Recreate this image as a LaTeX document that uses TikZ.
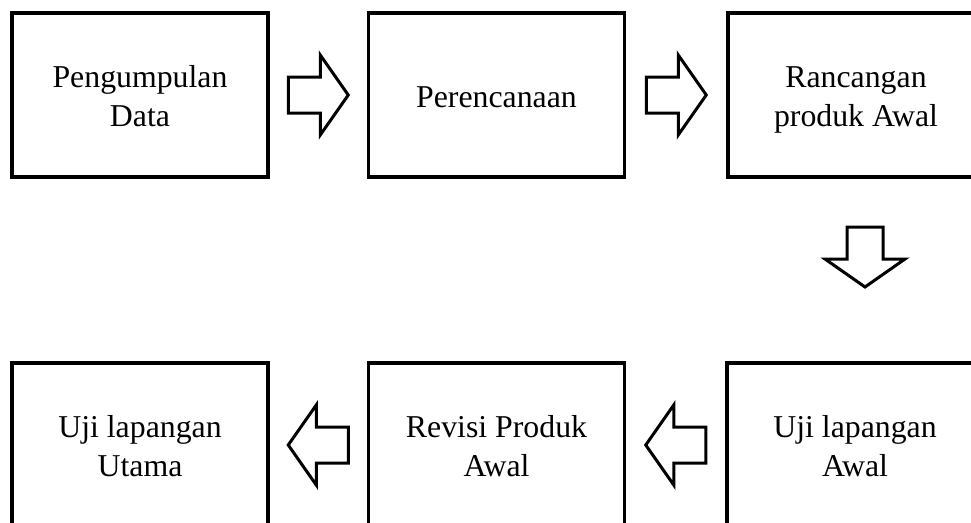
\documentclass[tikz,border=0pt]{standalone}
\usepackage{fontspec}
\setmainfont{Liberation Serif}
\newcommand\mystrut{\rule[-7.1pt]{0pt}{38.2pt}}
\begin{document}
\begin{tikzpicture}[x=1pt,y=1pt,
  stepbox/.style={draw, line width=3.2pt, minimum width=256pt, minimum height=164pt, align=center, inner sep=0pt, font=\fontsize{31.8}{38.2}\selectfont},
  barrow/.pic={\draw[line width=3pt, line join=miter, fill=white] (-30,-18) -- (2,-18) -- (2,-40) -- (30,0) -- (2,40) -- (2,18) -- (-30,18) -- cycle;}]
\useasboundingbox (0,0) rectangle (971,-522);
\clip (0,0) rectangle (971,-522);
\node[stepbox] (b1) at (140,-95) {\mystrut Pengumpulan\\\mystrut Data};
\node[stepbox] (b2) at (496.5,-95) {\mystrut Perencanaan};
\node[stepbox] (b3) at (856,-95) {\mystrut Rancangan\\\mystrut produk Awal};
\node[stepbox] (b4) at (855,-445) {\mystrut Uji lapangan\\\mystrut Awal};
\node[stepbox] (b5) at (496.5,-445) {\mystrut Revisi Produk\\\mystrut Awal};
\node[stepbox] (b6) at (140,-445) {\mystrut Uji lapangan\\\mystrut Utama};
\path (b1.east) -- (b2.west) coordinate[midway] (a1);
\path (b2.east) -- (b3.west) coordinate[midway] (a2);
\path (b4.west) -- (b5.east) coordinate[midway] (a4);
\path (b5.west) -- (b6.east) coordinate[midway] (a5);
\coordinate (a3) at (865,-257);
\pic at (a1) {barrow};
\pic at (a2) {barrow};
\pic[rotate=-90] at (a3) {barrow};
\pic[rotate=180] at (a4) {barrow};
\pic[rotate=180] at (a5) {barrow};
\end{tikzpicture}
\end{document}
